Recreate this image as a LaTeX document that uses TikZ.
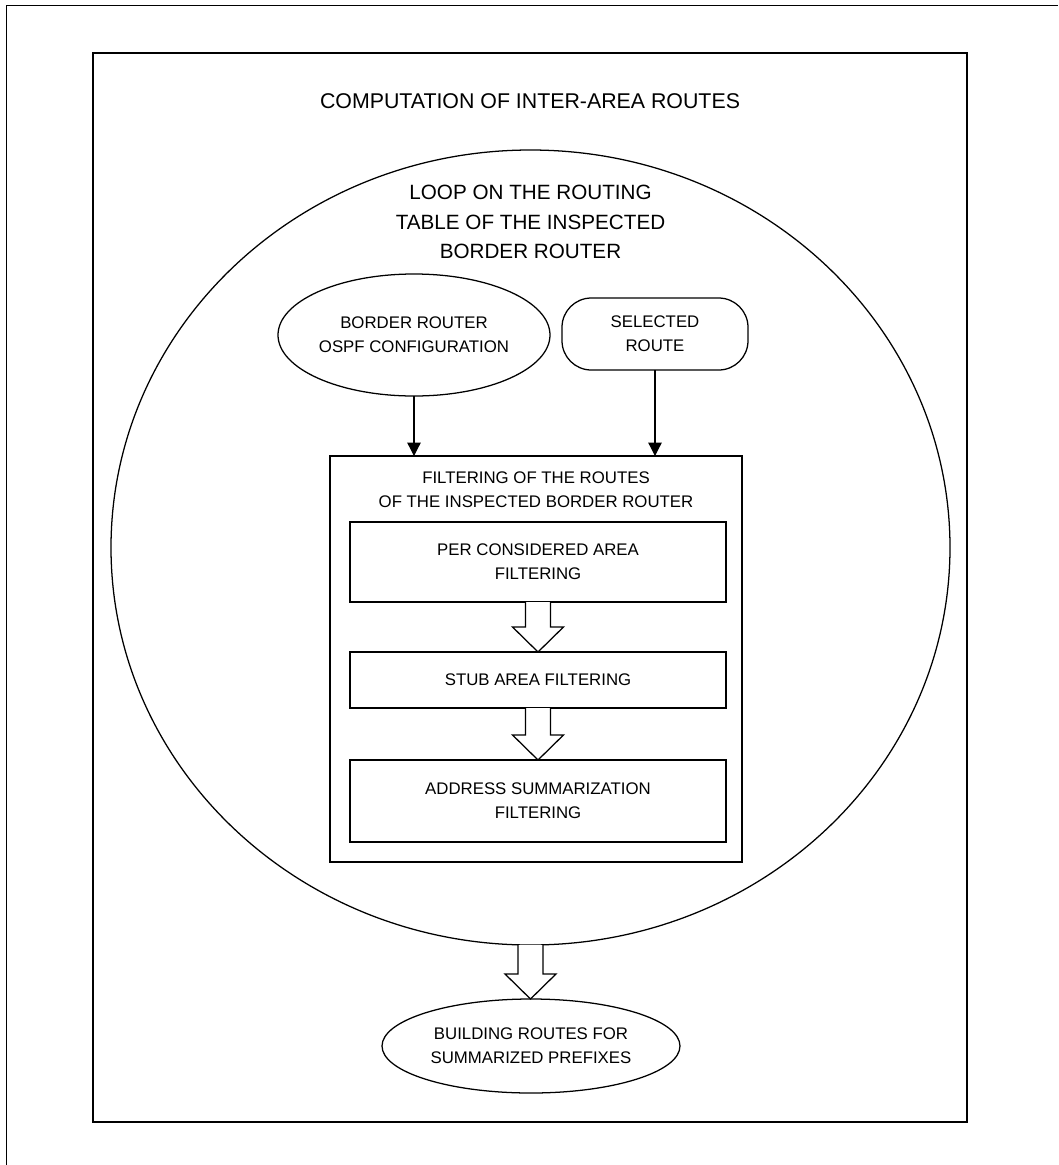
\documentclass[tikz,border=0pt]{standalone}
\usepackage{fontspec}
\setmainfont{Liberation Sans}
\usetikzlibrary{shapes.geometric,arrows.meta,calc}
\newcommand{\smallf}{\fontsize{12.6pt}{18pt}\selectfont}
\newcommand{\bigf}{\fontsize{15.5pt}{22pt}\selectfont}
\newcommand{\titlef}{\fontsize{16pt}{22pt}\selectfont}
\begin{document}
\begin{tikzpicture}[x=0.75pt,y=-0.75pt,
  every node/.style={inner sep=0pt, outer sep=0pt, align=center},
  ln/.style={line width=0.95pt},
  boxx/.style={ln, draw, rectangle, font=\smallf},
  ell/.style={ln, draw, ellipse, font=\smallf},
  thin/.style={ln, -{Triangle[length=10pt,width=10pt]}},
  hol/.style={ln, fill=white, line join=miter}]
\useasboundingbox (0,0) rectangle (1058,1165);
% page frame lines (top and left)
\draw[ln] (6.5,1165) -- (6.5,5.5) -- (1058,5.5);
% outer frame
\node[boxx, minimum width=874*0.75pt, minimum height=1069*0.75pt] (outer) at (530,587.5) {};
\node[font=\titlef] (title) at (530,101) {COMPUTATION OF INTER-AREA ROUTES};
% loop circle
\node[ell, minimum width=839*0.75pt, minimum height=795*0.75pt] (loop) at (530.5,547.5) {};
\node[font=\bigf] (looplabel) at (530.5,222) {LOOP ON THE ROUTING\\TABLE OF THE INSPECTED\\BORDER ROUTER};
% inputs
\node[ell, minimum width=272*0.75pt, minimum height=122*0.75pt] (bro) at (414,335) {BORDER ROUTER\\OSPF CONFIGURATION};
\node[boxx, rounded corners=22pt, minimum width=186*0.75pt, minimum height=72*0.75pt] (sel) at (655,334) {SELECTED\\ROUTE};
% filtering box
\node[boxx, minimum width=412*0.75pt, minimum height=406*0.75pt] (filt) at (536,659) {};
\node[font=\smallf] (filtlabel) at (536,490) {FILTERING OF THE ROUTES\\OF THE INSPECTED BORDER ROUTER};
\node[boxx, minimum width=376*0.75pt, minimum height=80*0.75pt] (b1) at (538,562) {PER CONSIDERED AREA\\FILTERING};
\node[boxx, minimum width=376*0.75pt, minimum height=56*0.75pt] (b2) at (538,680) {STUB AREA FILTERING};
\node[boxx, minimum width=376*0.75pt, minimum height=82*0.75pt] (b3) at (538,801) {ADDRESS SUMMARIZATION\\FILTERING};
% final
\node[ell, minimum width=298*0.75pt, minimum height=94*0.75pt] (fin) at (531,1046) {BUILDING ROUTES FOR\\SUMMARIZED PREFIXES};
% thin arrows
\draw[thin] (bro.south) -- (bro.south |- filt.north);
\draw[thin] (sel.south) -- (sel.south |- filt.north);
% hollow arrows
\newcommand{\hollowarrow}[2]{%
  \draw[hol] let \p1=(#1.south), \p2=(#2.north) in
    (\x1-9.375pt,\y1) -- (\x1-9.375pt,\y2+18.75pt) -- (\x1-19.1pt,\y2+18.75pt)
    -- (\x1,\y2) -- (\x1+19.1pt,\y2+18.75pt) -- (\x1+9.375pt,\y2+18.75pt) -- (\x1+9.375pt,\y1);}
\hollowarrow{b1}{b2}
\hollowarrow{b2}{b3}
\hollowarrow{loop}{fin}
\end{tikzpicture}
\end{document}
